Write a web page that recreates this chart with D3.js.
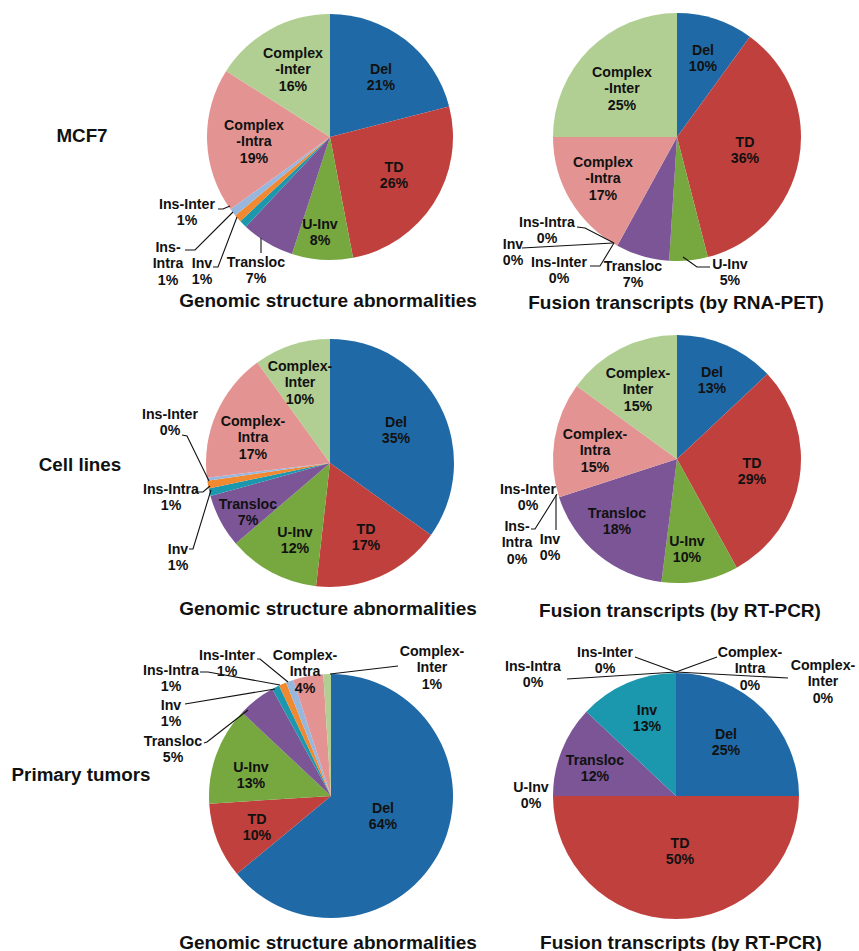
<!DOCTYPE html>
<html>
<head>
<meta charset="utf-8">
<script src="https://cdn.jsdelivr.net/npm/d3@7"></script>
<style>
  html, body { margin: 0; padding: 0; background: #fff; }
  svg text { font-family: "Liberation Sans", Arial, sans-serif; font-weight: bold; fill: #111; }
</style>
</head>
<body>
<svg id="chart" width="859" height="951"></svg>
<script>
// Rearrangement classes, in the clockwise order used by every pie
const categories = ["Del", "TD", "U-Inv", "Transloc", "Inv", "Ins-Intra", "Ins-Inter", "Complex-Intra", "Complex-Inter"];
const palette = ["#1f6aa6", "#c0403d", "#77a73f", "#7b5596", "#1b97ae", "#f0892f", "#98b7df", "#e39492", "#b1cf92"];

// Percentages for each panel
const mcf7Genomic      = [21, 26, 8, 7, 1, 1, 1, 19, 16];
const mcf7Fusion       = [10, 36, 5, 7, 0, 0, 0, 17, 25];
const cellGenomic      = [35, 17, 12, 7, 1, 1, 0.4, 17, 10];
const cellFusion       = [13, 29, 10, 18, 0, 0, 0, 15, 15];
const tumorGenomic     = [64, 10, 13, 5, 1, 1, 1, 4, 1];
const tumorFusion      = [25, 50, 0, 12, 13, 0, 0, 0, 0];

// Row and panel captions
const rowLabels = ["MCF7", "Cell lines", "Primary tumors"];
const panelTitles = [
  "Genomic structure abnormalities", "Fusion transcripts (by RNA-PET)",
  "Genomic structure abnormalities", "Fusion transcripts (by RT-PCR)",
  "Genomic structure abnormalities", "Fusion transcripts (by RT-PCR)"
];

// Label wording (| = line break) per panel style
const namesDashFirst = ["Del", "TD", "U-Inv", "Transloc", "Inv", "Ins-|Intra", "Ins-Inter", "Complex|-Intra", "Complex|-Inter"];
const namesDashFirst2 = ["Del", "TD", "U-Inv", "Transloc", "Inv", "Ins-Intra", "Ins-Inter", "Complex|-Intra", "Complex|-Inter"];
const namesDashLast = ["Del", "TD", "U-Inv", "Transloc", "Inv", "Ins-Intra", "Ins-Inter", "Complex-|Intra", "Complex-|Inter"];
const namesDashLast2 = ["Del", "TD", "U-Inv", "Transloc", "Inv", "Ins-|Intra", "Ins-Inter", "Complex-|Intra", "Complex-|Inter"];

// Layout of each panel: centre, radius, label offsets from centre and leader polylines
const panels = [
  { values: mcf7Genomic, names: namesDashFirst, cx: 330, cy: 137, r: 123,
    labels: [[51,-60],[64,38],[-10,95],[-74,133],[-128,134],[-162,126],[-143,75],[-76,4],[-37,-68]],
    leaders: [[[-69,101],[-69,116]], [[-117,130],[-112,130],[-93,80]], [[-145,113],[-135,113],[-97,75]], [[-112,72],[-107,72],[-100,69]]] },
  { values: mcf7Fusion, names: namesDashFirst2, cx: 677, cy: 137, r: 124,
    labels: [[26,-79],[68,13],[53,135],[-44,137],[-164,115],[-130,93],[-118,133],[-74,41],[-55,-49]],
    leaders: [[[6,120],[20,130],[33,130]], [[-155,111],[-64,106]], [[-100,90],[-92,91],[-63,106]], [[-87,129],[-77,129],[-63,106]]] },
  { values: cellGenomic, names: namesDashLast, cx: 330, cy: 463, r: 124,
    labels: [[66,-33],[36,74],[-35,77],[-82,49],[-152,94],[-159,34],[-160,-41],[-77,-26],[-30,-81]],
    leaders: [[[-148,-28],[-143,-27],[-121,18]], [[-135,29],[-127,29],[-120,23]], [[-141,86],[-137,86],[-119,27]]] },
  { values: cellFusion, names: namesDashLast2, cx: 677, cy: 459, r: 124,
    labels: [[35,-79],[75,12],[10,90],[-60,62],[-127,88],[-160,83],[-149,38],[-82,-9],[-39,-70]],
    leaders: [[[-146,70],[-142,70],[-120,35]], [[-121,36],[-121,71]]] },
  { values: tumorGenomic, names: namesDashLast, cx: 331, cy: 796, r: 122,
    labels: [[52,20],[-74,31],[-80,-21],[-158,-47],[-160,-83],[-160,-118],[-104,-133],[-26,-125],[101,-129]],
    leaders: [[[-127,-53],[-124,-54],[-83,-86]], [[-146,-92],[-56,-107]], [[-131,-124],[-123,-124],[-51,-111]],
              [[-74,-137],[-71,-137],[-43,-114]], [[-1,-122],[67,-130]]] },
  { values: tumorFusion, names: namesDashLast, cx: 676, cy: 796, r: 123,
    labels: [[50,-54],[4,55],[-145,-1],[-81,-28],[-29,-78],[-143,-122],[-71,-136],[74,-128],[147,-115]],
    leaders: [[[-109,-117],[0,-124]], [[-41,-139],[0,-124]], [[41,-139],[0,-124]], [[112,-118],[0,-124]]] }
];

const titlePos = [[328, 300], [676, 302], [328, 608], [680, 610], [328, 942], [681, 942]];
const rowPos = [[82, 135], [80, 464], [81, 774]];

const svg = d3.select("#chart");
const color = d3.scaleOrdinal().domain(categories).range(palette);
const pie = d3.pie().sort(null).value(d => d.value).startAngle(0).endAngle(2 * Math.PI);
const lineGen = d3.line();
const LH = 16.5;

panels.forEach((p, pi) => {
  const data = categories.map((c, i) => ({ cat: c, value: p.values[i], name: p.names[i] }));
  const g = svg.append("g").attr("transform", `translate(${p.cx},${p.cy})`);
  const arc = d3.arc().innerRadius(0).outerRadius(p.r);

  g.selectAll("path.slice")
    .data(pie(data).filter(d => d.data.value > 0))
    .join("path")
    .attr("class", "slice")
    .attr("d", arc)
    .attr("fill", d => color(d.data.cat));

  g.selectAll("path.leader")
    .data(p.leaders)
    .join("path")
    .attr("class", "leader")
    .attr("d", d => lineGen(d))
    .attr("fill", "none")
    .attr("stroke", "#111")
    .attr("stroke-width", 1.1);

  data.forEach((d, i) => {
    const lines = d.name.split("|").concat([Math.round(d.value) + "%"]);
    const [dx, dy] = p.labels[i];
    const t = g.append("text")
      .attr("text-anchor", "middle")
      .attr("font-size", 14.2);
    lines.forEach((ln, k) => {
      t.append("tspan")
        .attr("x", dx)
        .attr("y", dy + (k - (lines.length - 1) / 2) * LH)
        .attr("dominant-baseline", "central")
        .text(ln);
    });
  });

  svg.append("text")
    .attr("x", titlePos[pi][0])
    .attr("y", titlePos[pi][1])
    .attr("text-anchor", "middle")
    .attr("dominant-baseline", "central")
    .attr("font-size", 19)
    .text(panelTitles[pi]);
});

rowLabels.forEach((lab, i) => {
  svg.append("text")
    .attr("x", rowPos[i][0])
    .attr("y", rowPos[i][1])
    .attr("text-anchor", "middle")
    .attr("dominant-baseline", "central")
    .attr("font-size", 18.8)
    .text(lab);
});
</script>
</body>
</html>
